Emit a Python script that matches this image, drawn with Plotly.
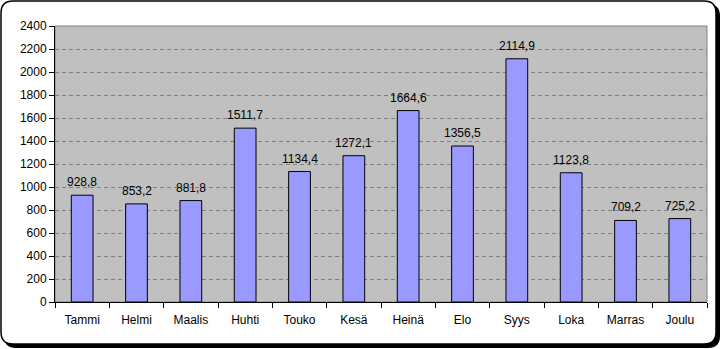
import plotly.graph_objects as go

months = ["Tammi", "Helmi", "Maalis", "Huhti", "Touko", "Kesä", "Heinä", "Elo", "Syys", "Loka", "Marras", "Joulu"]
values = [928.8, 853.2, 881.8, 1511.7, 1134.4, 1272.1, 1664.6, 1356.5, 2114.9, 1123.8, 709.2, 725.2]
yticks = list(range(0, 2401, 200))

W, H = 723, 349
L, R, T, B = 55, 16, 26, 47
PW, PH = W - L - R, H - T - B

def px(x):
    return (x - L) / PW

def py(y):
    return (H - B - y) / PH

def rrect(x0, y0, x1, y1, r):
    pts = [
        ("M", (x0 + r, y0)), ("L", (x1 - r, y0)), ("Q", (x1, y0), (x1, y0 + r)),
        ("L", (x1, y1 - r)), ("Q", (x1, y1), (x1 - r, y1)),
        ("L", (x0 + r, y1)), ("Q", (x0, y1), (x0, y1 - r)),
        ("L", (x0, y0 + r)), ("Q", (x0, y0), (x0 + r, y0)),
    ]
    s = ""
    for p in pts:
        cmd = p[0]
        coords = " ".join(f"{px(a):.5f},{py(b):.5f}" for a, b in p[1:])
        s += f"{cmd} {coords} "
    return s + "Z"

labels = [f"{v:.1f}".replace(".", ",") for v in values]

fig = go.Figure(go.Bar(
    x=months, y=values, width=0.4,
    marker=dict(color="#9999FF", line=dict(color="black", width=1)),
))

for m, v, t in zip(months, values, labels):
    fig.add_annotation(x=m, y=v, text=t, showarrow=False, yanchor="bottom",
                       yshift=4, font=dict(family="Liberation Sans, Arial", size=12, color="black"))

shapes = [
    dict(type="path", xref="paper", yref="paper", path=rrect(4, 4, 720, 348, 12),
         fillcolor="black", line=dict(color="black", width=0), layer="below"),
    dict(type="path", xref="paper", yref="paper", path=rrect(1, 1, 716, 344, 12),
         fillcolor="white", line=dict(color="black", width=1.5), layer="below"),
    dict(type="rect", xref="paper", yref="paper", x0=0, y0=0, x1=1, y1=1,
         fillcolor="#C0C0C0", line=dict(color="#808080", width=1), layer="below"),
]

fig.update_layout(
    width=W, height=H, margin=dict(l=L, r=R, t=T, b=B),
    paper_bgcolor="white", plot_bgcolor="rgba(0,0,0,0)",
    showlegend=False, shapes=shapes,
    font=dict(family="Liberation Sans, Arial", size=12, color="black"),
    bargap=0.6,
)
fig.update_xaxes(
    showline=True, linecolor="black", linewidth=1, ticks="outside", ticklen=5,
    tickcolor="black", tickson="boundaries", showgrid=False,
    tickfont=dict(size=12, color="black"), ticklabelstandoff=7,
)
fig.update_yaxes(
    range=[0, 2400], tickvals=yticks, showline=True, linecolor="black", linewidth=1,
    ticks="outside", ticklen=5, tickcolor="black",
    showgrid=True, gridcolor="#808080", griddash="4px,3px", gridwidth=1,
    zeroline=False, tickfont=dict(size=12, color="black"),
)

fig.write_html("out.html")
